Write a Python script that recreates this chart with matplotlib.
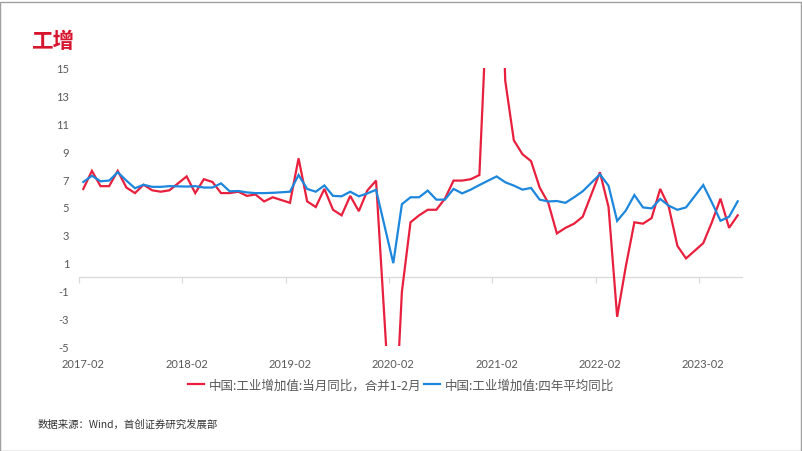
import numpy as np
import pandas as pd
import matplotlib
matplotlib.use("Agg")
import matplotlib.pyplot as plt
from matplotlib.patches import Rectangle

plt.rcParams['font.family'] = ['Noto Sans CJK SC', 'DejaVu Sans']

# ---- data ----
start_month = "2017-02"
end_month = "2023-06"
nan = np.nan
# 中国:工业增加值:当月同比，合并1-2月 (January empty)
red_2017 = [6.3, 7.6, 6.5, 6.5, 7.6, 6.4, 6.0, 6.6, 6.2, 6.1, 6.2]
red_2018 = [nan, 7.2, 6.0, 7.0, 6.8, 6.0, 6.0, 6.1, 5.8, 5.9, 5.4, 5.7]
red_2019 = [nan, 5.3, 8.5, 5.4, 5.0, 6.3, 4.8, 4.4, 5.8, 4.7, 6.2, 6.9]
red_2020 = [nan, -13.5, -1.1, 3.9, 4.4, 4.8, 4.8, 5.6, 6.9, 6.9, 7.0, 7.3]
red_2021 = [nan, 35.1, 14.1, 9.8, 8.8, 8.3, 6.4, 5.3, 3.1, 3.5, 3.8, 4.3]
red_2022 = [nan, 7.5, 5.0, -2.9, 0.7, 3.9, 3.8, 4.2, 6.3, 5.0, 2.2, 1.3]
red_2023 = [nan, 2.4, 3.9, 5.6, 3.5, 4.4]
# 中国:工业增加值:四年平均同比
blue_2017 = [6.8, 7.25, 6.85, 6.9, 7.5, 6.9, 6.35, 6.6, 6.45, 6.45, 6.5]
blue_2018 = [nan, 6.47, 6.5, 6.4, 6.4, 6.7, 6.13, 6.15, 6.05, 6.0, 6.0, 6.02]
blue_2019 = [nan, 6.1, 7.3, 6.3, 6.1, 6.55, 5.8, 5.77, 6.1, 5.77, 5.98, 6.24]
blue_2020 = [nan, 0.96, 5.2, 5.7, 5.7, 6.18, 5.53, 5.53, 6.3, 5.98, 6.25, 6.58]
blue_2021 = [nan, 7.2, 6.78, 6.54, 6.25, 6.37, 5.53, 5.4, 5.43, 5.3, 5.7, 6.13]
blue_2022 = [nan, 7.35, 6.53, 4.0, 4.74, 5.86, 4.97, 4.9, 5.58, 5.09, 4.8, 4.97]
blue_2023 = [nan, 6.58, 5.33, 4.01, 4.3, 5.41]

red_label = "中国:工业增加值:当月同比，合并1-2月"
blue_label = "中国:工业增加值:四年平均同比"
title = "工增"
source = "数据来源：Wind，首创证券研究发展部"
y_ticks = [-5, -3, -1, 1, 3, 5, 7, 9, 11, 13, 15]

red = np.array(red_2017 + red_2018 + red_2019 + red_2020 + red_2021 + red_2022 + red_2023, dtype=float)
blue = np.array(blue_2017 + blue_2018 + blue_2019 + blue_2020 + blue_2021 + blue_2022 + blue_2023, dtype=float)
months = pd.period_range(start_month, end_month, freq="M")
x = np.arange(len(months))

RED = "#E8203E"
BLUE = "#1C87DC"
GRAY = "#595959"

fig = plt.figure(figsize=(8.02, 4.52), dpi=100)
W, H = 802, 452
ax = fig.add_axes([79 / W, 1 - 347 / H, (742 - 79) / W, (347 - 69) / H])

mr = ~np.isnan(red)
mb = ~np.isnan(blue)
ax.plot(x[mr], red[mr], color=RED, lw=1.6, label=red_label, solid_joinstyle="miter", zorder=3)
ax.plot(x[mb], blue[mb], color=BLUE, lw=1.6, label=blue_label, solid_joinstyle="miter", zorder=3)

ax.set_xlim(-0.5, len(months) - 0.5)
ax.set_ylim(-5, 15)
ax.set_yticks(y_ticks)
ax.set_yticklabels([str(v) for v in y_ticks], family=["Lato", "DejaVu Sans"], fontsize=8, color=GRAY)
ax.tick_params(axis="y", length=0, pad=7)

for s in ["top", "right", "left"]:
    ax.spines[s].set_visible(False)
ax.spines["bottom"].set_position(("data", 0))
ax.spines["bottom"].set_color("#D9D9D9")
ax.spines["bottom"].set_linewidth(0.9)

feb_idx = [i for i, m in enumerate(months) if m.month == 2]
ax.set_xticks([i - 0.5 for i in feb_idx])
ax.set_xticklabels([])
ax.tick_params(axis="x", length=4, color="#D9D9D9", width=0.9, direction="out")

sec = ax.secondary_xaxis("bottom")
sec.set_xticks(feb_idx)
sec.set_xticklabels([months[i].strftime("%Y-%m") for i in feb_idx],
                    family=["Lato", "DejaVu Sans"], fontsize=8, color=GRAY)
sec.tick_params(length=0, pad=9)
sec.spines["bottom"].set_visible(False)

fig.legend(loc="center", bbox_to_anchor=(0.5, 1 - 386 / H), ncol=2, frameon=False,
           fontsize=9, handlelength=1.3, handletextpad=0.35, columnspacing=0.2,
           labelcolor=GRAY)

fig.text(31 / W, 1 - 41 / H, title, fontsize=15.5, weight="bold", color="#D6162F",
         ha="left", va="center")
fig.text(38 / W, 1 - 425 / H, source, fontsize=7.5, color="#333333", style="italic",
         ha="left", va="center")

fig.add_artist(Rectangle((0.0006, 0.001), 0.9985, 0.992, transform=fig.transFigure,
                         fill=False, edgecolor="#A0A0A0", lw=1.0))

fig.savefig("out.png", dpi=100)
